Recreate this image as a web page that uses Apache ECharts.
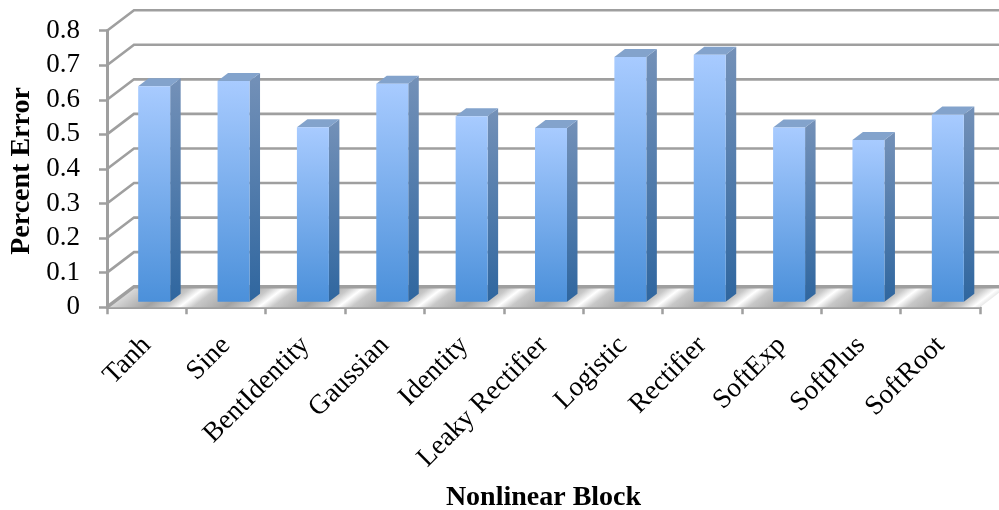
<!DOCTYPE html>
<html>
<head>
<meta charset="utf-8">
<style>html,body{margin:0;padding:0;background:#fff}#chart{width:999px;height:510px}</style>
<script src="https://cdn.jsdelivr.net/npm/echarts@6/dist/echarts.min.js"></script>
</head>
<body>
<div id="chart"></div>
<script>
const categories = ['Tanh', 'Sine', 'BentIdentity', 'Gaussian', 'Identity', 'Leaky Rectifier',
  'Logistic', 'Rectifier', 'SoftExp', 'SoftPlus', 'SoftRoot'];
const percentError = [0.624, 0.639, 0.505, 0.631, 0.537, 0.503, 0.708, 0.715, 0.504, 0.468, 0.542];
const valueTicks = [0, 0.1, 0.2, 0.3, 0.4, 0.5, 0.6, 0.7, 0.8];

// Oblique projection of the 3D box: how far the back wall sits from the front plane.
const WALL_DX = 27, WALL_DY = -20.5;
// Bars stand a little behind the front plane and have their own shallow depth.
const BAR_OFFSET_DX = 7.5, BAR_OFFSET_DY = -5.4;
const BAR_DX = 10.5, BAR_DY = -8;
const GRID_COLOR = '#9f9f9f';
const FONT = '"Liberation Serif", serif';
const { LinearGradient } = echarts.graphic;

function vertical(top, bottom) {
  return new LinearGradient(0, 0, 0, 1, [{ offset: 0, color: top }, { offset: 1, color: bottom }]);
}

// Back wall rules together with the slanted side-wall rules.
function renderWallLine(params, api) {
  const rect = params.coordSys;
  const y = api.coord([0, api.value(0)])[1];
  const x0 = rect.x;
  return {
    type: 'polyline',
    shape: { points: [[x0, y], [x0 + WALL_DX, y + WALL_DY], [x0 + rect.width + WALL_DX, y + WALL_DY]] },
    style: { fill: null, stroke: GRID_COLOR, lineWidth: api.value(0) === 0 ? 3.5 : 2.6 },
    silent: true
  };
}

// The floor: one parallelogram with a soft diagonal highlight between each pair of bars.
function renderFloor(params, api) {
  const rect = params.coordSys;
  const y = api.coord([0, 0])[1];
  const x = rect.x, W = rect.width;
  const n = categories.length;
  const spread = 0.17 / n;
  const stops = [{ offset: 0, color: '#dcdcdc' }];
  for (let i = 0; i < n; i++) {
    const c = (i + 0.91) / n;
    stops.push({ offset: c - 0.42 / n, color: '#a2a2a2' });
    stops.push({ offset: c - spread, color: '#c8c8c8' });
    stops.push({ offset: c, color: '#ffffff' });
    if (i < n - 1) {
      stops.push({ offset: c + spread, color: '#c8c8c8' });
    }
  }
  stops.push({ offset: 1, color: '#e8e8e8' });
  // The gradient runs across the depth direction, so its bands follow the floor's slant.
  const len = Math.hypot(WALL_DX, WALL_DY);
  const ux = -WALL_DY / len, uy = WALL_DX / len;
  const proj = W * ux;
  const fill = new LinearGradient(x, y, x + ux * proj, y + uy * proj, stops, true);
  return {
    type: 'polygon',
    shape: { points: [[x, y], [x + WALL_DX, y + WALL_DY], [x + W + WALL_DX, y + WALL_DY], [x + W, y]] },
    style: { fill: fill },
    silent: true
  };
}

function renderBar(params, api) {
  const i = api.value(0);
  const top = api.coord([i, api.value(1)]);
  const base = api.coord([i, 0]);
  const w = api.size([1, 0])[0] * 0.403;
  const left = top[0] - w / 2 + BAR_OFFSET_DX;
  const right = left + w;
  const yTop = top[1] + BAR_OFFSET_DY;
  const yBase = base[1] + BAR_OFFSET_DY;
  return {
    type: 'group',
    children: [
      {
        type: 'polygon',
        shape: { points: [[right, yTop], [right + BAR_DX, yTop + BAR_DY], [right + BAR_DX, yBase + BAR_DY], [right, yBase]] },
        style: { fill: vertical('#7491b8', '#2f669f') }
      },
      {
        type: 'polygon',
        shape: { points: [[left, yTop], [left + BAR_DX, yTop + BAR_DY], [right + BAR_DX, yTop + BAR_DY], [right, yTop]] },
        style: { fill: '#83a3cc' }
      },
      {
        type: 'rect',
        shape: { x: left, y: yTop, width: w, height: yBase - yTop },
        style: { fill: vertical('#a8cbff', '#4b90da') }
      }
    ]
  };
}

const chart = echarts.init(document.getElementById('chart'), null, { renderer: 'canvas' });
chart.setOption({
  animation: false,
  backgroundColor: '#ffffff',
  grid: { left: 107, top: 30.7, width: 873, height: 276.5, outerBoundsMode: 'none' },
  xAxis: {
    type: 'category',
    data: categories,
    boundaryGap: true,
    name: 'Nonlinear Block',
    nameLocation: 'middle',
    nameGap: 177,
    nameTextStyle: { fontFamily: FONT, fontWeight: 'bold', fontSize: 28, color: '#000' },
    axisLine: { show: true, lineStyle: { color: GRID_COLOR, width: 3 } },
    axisTick: { show: true, alignWithLabel: false, length: 7, lineStyle: { color: GRID_COLOR, width: 2.5 } },
    axisLabel: { interval: 0, rotate: 45, margin: 34, fontFamily: FONT, fontSize: 27.5, color: '#000' },
    splitLine: { show: false }
  },
  yAxis: {
    type: 'value',
    min: 0,
    max: 0.8,
    interval: 0.1,
    name: 'Percent Error',
    nameLocation: 'middle',
    nameGap: 70,
    nameTextStyle: { fontFamily: FONT, fontWeight: 'bold', fontSize: 28, color: '#000', padding: [0, 4, 0, 0] },
    axisLine: { show: true, lineStyle: { color: GRID_COLOR, width: 3 } },
    axisTick: { show: true, length: 8, lineStyle: { color: GRID_COLOR, width: 2.5 } },
    axisLabel: {
      margin: 27,
      padding: [4, 0, 0, 0],
      fontFamily: FONT,
      fontSize: 27,
      color: '#000',
      formatter: v => (v === 0 ? '0' : v.toFixed(1))
    },
    splitLine: { show: false }
  },
  series: [
    { type: 'custom', name: 'floor', z: 1, renderItem: renderFloor, data: [[0]], encode: { x: 0 }, silent: true },
    { type: 'custom', name: 'walls', z: 2, renderItem: renderWallLine, data: valueTicks.map(v => [v]), encode: { y: 0 }, silent: true },
    { type: 'custom', name: 'Percent Error', z: 3, renderItem: renderBar, data: percentError.map((v, i) => [i, v]), encode: { x: 0, y: 1 } }
  ]
});
</script>
</body>
</html>
